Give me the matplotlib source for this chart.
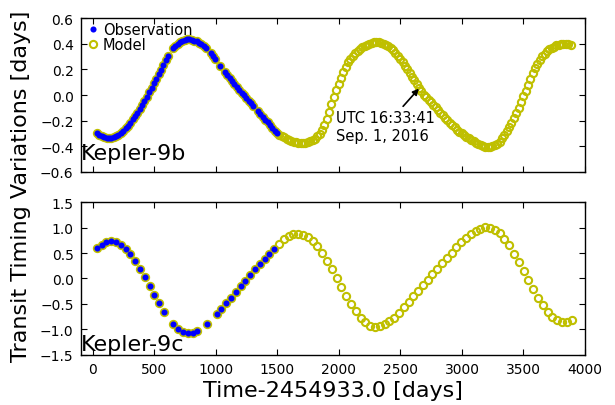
import numpy as np
import matplotlib
matplotlib.use("Agg")
import matplotlib.pyplot as plt

# Kepler-9b: linear ephemeris + TTV (days) read per epoch
T0_B = 35.0
PERIOD_B = 19.24
TTV_B = [
    -0.300, -0.312, -0.322, -0.329, -0.333, -0.335, -0.334, -0.329, -0.320, -0.309,
    -0.295, -0.279, -0.261, -0.239, -0.215, -0.190, -0.164, -0.137, -0.107, -0.077,
    -0.046, -0.014, 0.020, 0.056, 0.091, 0.126, 0.161, 0.197, 0.235, 0.273,
    0.306, 0.338, 0.364, 0.386, 0.403, 0.415, 0.424, 0.431, 0.435, 0.435,
    0.432, 0.426, 0.419, 0.409, 0.397, 0.383, 0.367, 0.350, 0.329, 0.306,
    0.281, 0.254, 0.226, 0.202, 0.178, 0.154, 0.130, 0.106, 0.083, 0.059,
    0.037, 0.017, -0.003, -0.023, -0.043, -0.063, -0.084, -0.104, -0.126, -0.148,
    -0.170, -0.192, -0.214, -0.235, -0.257, -0.278, -0.296, -0.310, -0.323, -0.332,
    -0.341, -0.350, -0.358, -0.365, -0.370, -0.375, -0.377, -0.377, -0.374, -0.369,
    -0.362, -0.353, -0.342, -0.324, -0.305, -0.276, -0.238, -0.188, -0.132, -0.072,
    -0.016, 0.037, 0.088, 0.137, 0.183, 0.222, 0.255, 0.283, 0.307, 0.328,
    0.346, 0.361, 0.374, 0.385, 0.395, 0.403, 0.409, 0.413, 0.415, 0.414,
    0.410, 0.403, 0.393, 0.381, 0.366, 0.349, 0.330, 0.306, 0.281, 0.255,
    0.228, 0.200, 0.172, 0.143, 0.114, 0.085, 0.057, 0.030, 0.004, -0.016,
    -0.037, -0.057, -0.077, -0.097, -0.117, -0.137, -0.157, -0.177, -0.197, -0.216,
    -0.235, -0.253, -0.270, -0.286, -0.301, -0.315, -0.328, -0.340, -0.351, -0.362,
    -0.373, -0.383, -0.392, -0.399, -0.404, -0.407, -0.406, -0.401, -0.393, -0.381,
    -0.364, -0.340, -0.312, -0.282, -0.250, -0.215, -0.178, -0.139, -0.099, -0.055,
    -0.010, 0.035, 0.080, 0.125, 0.169, 0.210, 0.245, 0.276, 0.302, 0.324,
    0.342, 0.357, 0.369, 0.379, 0.388, 0.395, 0.400, 0.403, 0.403, 0.400,
    0.395,
]
GAPS_B = [31, 47, 51, 53, 67]
LAST_OBS_B = 76

# Kepler-9c
T0_C = 32.0
PERIOD_C = 38.98
TTV_C = [
    0.60, 0.66, 0.71, 0.73, 0.71, 0.66, 0.585, 0.49, 0.35, 0.19,
    0.026, -0.145, -0.32, -0.49, -0.65, -0.79, -0.90, -0.99, -1.05, -1.07,
    -1.07, -1.03, -0.97, -0.89, -0.80, -0.70, -0.60, -0.49, -0.375, -0.27,
    -0.15, -0.046, 0.066, 0.18, 0.28, 0.39, 0.49, 0.585, 0.68, 0.77,
    0.83, 0.87, 0.88, 0.86, 0.82, 0.74, 0.64, 0.50, 0.35, 0.19,
    0.007, -0.17, -0.35, -0.51, -0.64, -0.77, -0.86, -0.93, -0.95, -0.93,
    -0.89, -0.84, -0.77, -0.68, -0.57, -0.47, -0.35, -0.24, -0.13, -0.02,
    0.086, 0.19, 0.30, 0.41, 0.51, 0.61, 0.71, 0.79, 0.87, 0.93,
    0.98, 1.01, 1.00, 0.95, 0.89, 0.77, 0.65, 0.49, 0.32, 0.145,
    -0.03, -0.20, -0.375, -0.53, -0.66, -0.76, -0.82, -0.85, -0.85, -0.81,
]
GAPS_C = [15, 22, 24]
LAST_OBS_C = 37

YCOL = (0.75, 0.75, 0.0)
MODEL_KW = dict(mfc="none", mec=YCOL, ms=5.2, mew=1.5)
OBS_KW = dict(color="b", ms=4.4, mew=0)


def series(t0, period, ttv, gaps, last_obs):
    ep = np.arange(len(ttv))
    ttv = np.asarray(ttv)
    keep = ~np.isin(ep, gaps)
    t = t0 + period * ep
    obs = keep & (ep <= last_obs)
    return t[keep], ttv[keep], t[obs], ttv[obs]


def style_axes(ax):
    ax.tick_params(direction="in", top=True, right=True, length=4, width=0.8,
                   labelsize=10, pad=5)
    for s in ax.spines.values():
        s.set_linewidth(1.0)
    ax.set_xlim(-100, 4000)
    ax.set_xticks(np.arange(0, 4001, 500))


fig = plt.figure(figsize=(6.15, 4.06), dpi=100)
ax1 = fig.add_axes([0.1309, 0.5746, 0.8203, 0.3778])
ax2 = fig.add_axes([0.1309, 0.1239, 0.8203, 0.3754])

mt, mv, ot, ov = series(T0_B, PERIOD_B, TTV_B, GAPS_B, LAST_OBS_B)
hm, = ax1.plot(mt, mv, "o", label="Model", **MODEL_KW)
ho, = ax1.plot(ot, ov, "o", label="Observation", **OBS_KW)
style_axes(ax1)
ax1.set_ylim(-0.6, 0.6)
ax1.set_yticks(np.arange(-0.6, 0.61, 0.2))
ax1.set_xticklabels([])
ax1.text(-100, -0.5, "Kepler-9b", fontsize=16)
ax1.legend(handles=[ho, hm], loc="upper left", bbox_to_anchor=(0, 1.03),
           frameon=False, numpoints=1, fontsize=10.5, handlelength=0.6,
           handletextpad=0.4, borderpad=0.45, borderaxespad=0.1, labelspacing=0.0)
ax1.annotate("UTC 16:33:41\nSep. 1, 2016", xy=(2650, 0.05), xytext=(1975, -0.245),
             fontsize=10.5, ha="left", va="center",
             arrowprops=dict(arrowstyle="-|>", color="k", lw=1.2, mutation_scale=9,
                             shrinkA=1, shrinkB=0))

mt, mv, ot, ov = series(T0_C, PERIOD_C, TTV_C, GAPS_C, LAST_OBS_C)
ax2.plot(mt, mv, "o", **MODEL_KW)
ax2.plot(ot, ov, "o", **OBS_KW)
style_axes(ax2)
ax2.set_ylim(-1.5, 1.5)
ax2.set_yticks(np.arange(-1.5, 1.51, 0.5))
ax2.text(-100, -1.4, "Kepler-9c", fontsize=16)
ax2.set_xlabel("Time-2454933.0 [days]", fontsize=16, labelpad=3)

fig.text(0.034, 0.54, "Transit Timing Variations [days]", rotation=90,
         fontsize=16, ha="center", va="center")

fig.savefig("out.png", dpi=100)
